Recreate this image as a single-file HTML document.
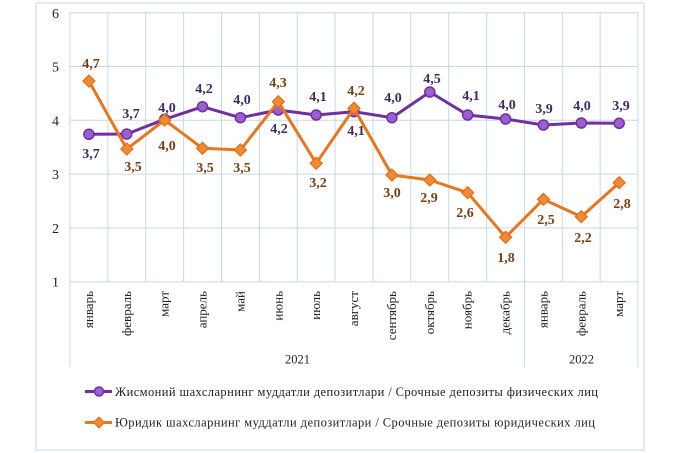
<!DOCTYPE html>
<html><head><meta charset="utf-8"><style>
html,body{margin:0;padding:0;background:#fff;}
svg{display:block;}
</style></head><body>
<svg width="680" height="453" viewBox="0 0 680 453" xmlns="http://www.w3.org/2000/svg">
<rect x="0" y="0" width="680" height="453" fill="#fff"/>
<rect x="36" y="3" width="608" height="447" fill="#fff" stroke="#d3dce6" stroke-width="1.2"/>
<g stroke="#c9d8e3" stroke-width="1">
<line x1="70" y1="12.7" x2="638" y2="12.7"/>
<line x1="70" y1="66.5" x2="638" y2="66.5"/>
<line x1="70" y1="120.3" x2="638" y2="120.3"/>
<line x1="70" y1="174.1" x2="638" y2="174.1"/>
<line x1="70" y1="227.9" x2="638" y2="227.9"/>
<line x1="70" y1="281.7" x2="638" y2="281.7"/>
<line x1="70" y1="12.7" x2="70" y2="367"/>
<line x1="107.9" y1="12.7" x2="107.9" y2="281.7"/>
<line x1="145.7" y1="12.7" x2="145.7" y2="281.7"/>
<line x1="183.6" y1="12.7" x2="183.6" y2="281.7"/>
<line x1="221.5" y1="12.7" x2="221.5" y2="281.7"/>
<line x1="259.4" y1="12.7" x2="259.4" y2="281.7"/>
<line x1="297.2" y1="12.7" x2="297.2" y2="281.7"/>
<line x1="335.1" y1="12.7" x2="335.1" y2="281.7"/>
<line x1="373" y1="12.7" x2="373" y2="281.7"/>
<line x1="410.8" y1="12.7" x2="410.8" y2="281.7"/>
<line x1="448.7" y1="12.7" x2="448.7" y2="281.7"/>
<line x1="486.6" y1="12.7" x2="486.6" y2="281.7"/>
<line x1="524.4" y1="12.7" x2="524.4" y2="367"/>
<line x1="562.3" y1="12.7" x2="562.3" y2="281.7"/>
<line x1="600.2" y1="12.7" x2="600.2" y2="281.7"/>
<line x1="638" y1="12.7" x2="638" y2="367"/>
</g>
<g font-family="Liberation Serif, serif" font-size="14" fill="#222" text-anchor="end">
<text x="59" y="18">6</text>
<text x="59" y="71.5">5</text>
<text x="59" y="125.3">4</text>
<text x="59" y="179">3</text>
<text x="59" y="233">2</text>
<text x="59" y="286.7">1</text>
</g>
<g font-family="Liberation Serif, serif" font-size="13" fill="#222" text-anchor="end">
<text transform="translate(93,291) rotate(-90)">январь</text>
<text transform="translate(130.8,291) rotate(-90)">февраль</text>
<text transform="translate(168.7,291) rotate(-90)">март</text>
<text transform="translate(206.5,291) rotate(-90)">апрель</text>
<text transform="translate(244.4,291) rotate(-90)">май</text>
<text transform="translate(282.3,291) rotate(-90)">июнь</text>
<text transform="translate(320.2,291) rotate(-90)">июль</text>
<text transform="translate(358,291) rotate(-90)">август</text>
<text transform="translate(395.9,291) rotate(-90)">сентябрь</text>
<text transform="translate(433.8,291) rotate(-90)">октябрь</text>
<text transform="translate(471.7,291) rotate(-90)">ноябрь</text>
<text transform="translate(509.6,291) rotate(-90)">декабрь</text>
<text transform="translate(547.4,291) rotate(-90)">январь</text>
<text transform="translate(585.3,291) rotate(-90)">февраль</text>
<text transform="translate(623.2,291) rotate(-90)">март</text>
</g>
<g font-family="Liberation Serif, serif" font-size="12.5" fill="#222" text-anchor="middle">
<text x="297.5" y="363.5">2021</text>
<text x="581.5" y="363.5">2022</text>
</g>
<!-- purple series -->
<polyline fill="none" stroke="#7030a0" stroke-width="3" stroke-linejoin="round" points="88.9,134.3 126.8,134 164.7,119.3 202.5,106.7 240.4,117.7 278.3,110 316.2,115 354,111.7 391.9,117.7 429.8,92 467.7,115 505.6,119 543.4,125 581.3,123 619.2,123.3"/>
<g fill="#9b5fd1" stroke="#7030a0" stroke-width="1.5">
<circle cx="88.9" cy="134.3" r="5"/><circle cx="126.8" cy="134" r="5"/><circle cx="164.7" cy="119.3" r="5"/><circle cx="202.5" cy="106.7" r="5"/><circle cx="240.4" cy="117.7" r="5"/><circle cx="278.3" cy="110" r="5"/><circle cx="316.2" cy="115" r="5"/><circle cx="354" cy="111.7" r="5"/><circle cx="391.9" cy="117.7" r="5"/><circle cx="429.8" cy="92" r="5"/><circle cx="467.7" cy="115" r="5"/><circle cx="505.6" cy="119" r="5"/><circle cx="543.4" cy="125" r="5"/><circle cx="581.3" cy="123" r="5"/><circle cx="619.2" cy="123.3" r="5"/>
</g>
<!-- orange series -->
<polyline fill="none" stroke="#e8761f" stroke-width="3" stroke-linejoin="round" points="88.9,81 126.8,149 164.7,120 202.5,148.3 240.4,150 278.3,101.7 316.2,163.3 354,108.3 391.9,175 429.8,180 467.7,192.7 505.6,237.3 543.4,199.3 581.3,216.7 619.2,182.7"/>
<g fill="#f08a33" stroke="#e0701a" stroke-width="1.2">
<polygon points="88.9,75 94.9,81 88.9,87 82.9,81"/>
<polygon points="126.8,143 132.8,149 126.8,155 120.8,149"/>
<polygon points="164.7,114 170.7,120 164.7,126 158.7,120"/>
<polygon points="202.5,142.3 208.5,148.3 202.5,154.3 196.5,148.3"/>
<polygon points="240.4,144 246.4,150 240.4,156 234.4,150"/>
<polygon points="278.3,95.7 284.3,101.7 278.3,107.7 272.3,101.7"/>
<polygon points="316.2,157.3 322.2,163.3 316.2,169.3 310.2,163.3"/>
<polygon points="354,102.3 360,108.3 354,114.3 348,108.3"/>
<polygon points="391.9,169 397.9,175 391.9,181 385.9,175"/>
<polygon points="429.8,174 435.8,180 429.8,186 423.8,180"/>
<polygon points="467.7,186.7 473.7,192.7 467.7,198.7 461.7,192.7"/>
<polygon points="505.6,231.3 511.6,237.3 505.6,243.3 499.6,237.3"/>
<polygon points="543.4,193.3 549.4,199.3 543.4,205.3 537.4,199.3"/>
<polygon points="581.3,210.7 587.3,216.7 581.3,222.7 575.3,216.7"/>
<polygon points="619.2,176.7 625.2,182.7 619.2,188.7 613.2,182.7"/>
</g>
<!-- purple labels -->
<g font-family="Liberation Serif, serif" font-size="14" font-weight="bold" fill="#3f2a66" text-anchor="middle">
<text x="91" y="158">3,7</text>
<text x="131" y="118">3,7</text>
<text x="167" y="112">4,0</text>
<text x="204" y="93">4,2</text>
<text x="242" y="104">4,0</text>
<text x="279" y="133">4,2</text>
<text x="318" y="101">4,1</text>
<text x="356" y="135">4,1</text>
<text x="393" y="102">4,0</text>
<text x="432" y="83">4,5</text>
<text x="471" y="100">4,1</text>
<text x="507" y="109">4,0</text>
<text x="544" y="113">3,9</text>
<text x="582" y="110">4,0</text>
<text x="621" y="110">3,9</text>
</g>
<!-- orange labels -->
<g font-family="Liberation Serif, serif" font-size="14" font-weight="bold" fill="#7a3e12" text-anchor="middle">
<text x="91" y="68">4,7</text>
<text x="133" y="171">3,5</text>
<text x="167" y="150">4,0</text>
<text x="205" y="172">3,5</text>
<text x="242" y="172">3,5</text>
<text x="278" y="87">4,3</text>
<text x="318" y="187">3,2</text>
<text x="356" y="95">4,2</text>
<text x="392" y="197">3,0</text>
<text x="429" y="202">2,9</text>
<text x="465" y="217">2,6</text>
<text x="506" y="262">1,8</text>
<text x="546" y="224">2,5</text>
<text x="583" y="242">2,2</text>
<text x="622" y="208">2,8</text>
</g>
<!-- legend -->
<line x1="85" y1="391.5" x2="112" y2="391.5" stroke="#7030a0" stroke-width="3"/>
<circle cx="99" cy="391.5" r="4.5" fill="#9b5fd1" stroke="#7030a0" stroke-width="1.5"/>
<line x1="85" y1="422.5" x2="112" y2="422.5" stroke="#e8761f" stroke-width="3"/>
<polygon points="99,417 104.5,422.5 99,428 93.5,422.5" fill="#f08a33" stroke="#e0701a" stroke-width="1"/>
<g font-family="Liberation Serif, serif" font-size="12.5" fill="#222">
<text x="115" y="396" textLength="483" lengthAdjust="spacing">Жисмоний шахсларнинг  муддатли  депозитлари / Срочные депозиты  физических  лиц</text>
<text x="115" y="426.5" textLength="480" lengthAdjust="spacing">Юридик шахсларнинг  муддатли  депозитлари / Срочные депозиты  юридических  лиц</text>
</g>
</svg>
</body></html>
